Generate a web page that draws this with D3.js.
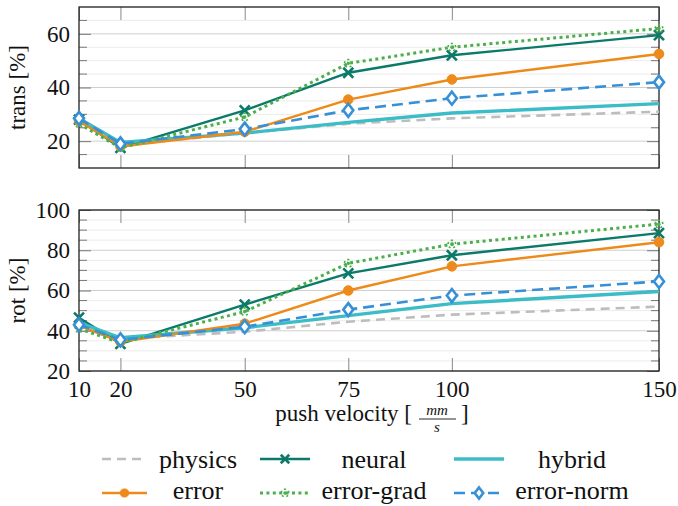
<!DOCTYPE html>
<html>
<head>
<meta charset="utf-8">
<script src="https://cdn.jsdelivr.net/npm/d3@7"></script>
<style>
  html, body { margin: 0; padding: 0; background: #fff; }
  svg { display: block; }
</style>
</head>
<body>
<svg id="chart" width="678" height="506"></svg>
<script>
// ---------------- data ----------------
const velocities = [10, 20, 50, 75, 100, 150];
const seriesNames = ["physics", "neural", "hybrid", "error", "error-grad", "error-norm"];

const transPhysics   = [27.5, 18.5, 23.0, 26.5, 28.5, 31.0];
const transNeural    = [28.0, 17.5, 31.5, 45.5, 52.0, 59.5];
const transHybrid    = [28.5, 19.5, 23.0, 27.0, 30.5, 34.0];
const transError     = [27.5, 18.0, 23.5, 35.5, 43.0, 52.5];
const transErrorGrad = [26.5, 17.5, 29.0, 49.0, 55.0, 62.0];
const transErrorNorm = [28.5, 19.0, 24.5, 31.5, 36.0, 42.0];

const rotPhysics   = [43.0, 36.0, 39.5, 44.5, 48.0, 52.0];
const rotNeural    = [46.5, 33.5, 53.0, 68.5, 77.5, 88.5];
const rotHybrid    = [44.0, 36.5, 41.5, 47.5, 53.5, 59.5];
const rotError     = [42.5, 34.5, 43.5, 60.0, 72.0, 84.0];
const rotErrorGrad = [41.0, 34.0, 49.5, 73.5, 83.0, 93.0];
const rotErrorNorm = [43.0, 35.5, 42.0, 50.5, 57.5, 64.5];

const transYTicks = [20, 40, 60];
const rotYTicks = [20, 40, 60, 80, 100];
const xTicks = [10, 20, 50, 75, 100, 150];

// ---------------- font detection ----------------
function fontAvailable(name) {
  const c = document.createElement("canvas").getContext("2d");
  const s = "mmmmmmmmmmlli10WQ%@abcdefghij";
  const res = [];
  for (const base of ["monospace", "sans-serif", "serif"]) {
    c.font = `40px ${base}`;
    const w0 = c.measureText(s).width;
    c.font = `40px "${name}", ${base}`;
    const w1 = c.measureText(s).width;
    res.push(w0 !== w1);
  }
  return res.some(v => v);
}
const serifCandidates = ["Liberation Serif", "Tinos", "Times New Roman", "DejaVu Serif", "Noto Serif", "FreeSerif", "Nimbus Roman", "Nimbus Roman No9 L"];
let chosen = serifCandidates.find(fontAvailable);
const FONT = chosen ? `"${chosen}", serif` : "serif";

// ---------------- styles ----------------
const styles = {
  "physics":    {color: "#bdbdbd", width: 2.6, dash: "9,6",  marker: null},
  "neural":     {color: "#0b7a68", width: 2.4, dash: null,   marker: "x"},
  "hybrid":     {color: "#3bbcc7", width: 3.4, dash: null,   marker: null},
  "error":      {color: "#ed8a19", width: 2.4, dash: null,   marker: "circle"},
  "error-grad": {color: "#4caf4c", width: 3.0, dash: "3,3.4", marker: "star"},
  "error-norm": {color: "#3790d5", width: 2.6, dash: "11,6", marker: "diamond"}
};

const svg = d3.select("#chart");
const L = 79, R = 659;
const x = d3.scaleLinear().domain([10, 150]).range([L, R]);

function drawMarker(g, type, cx, cy, st, scale) {
  const s = scale || 1;
  if (type === "circle") {
    g.append("circle").attr("cx", cx).attr("cy", cy).attr("r", 4.8 * s)
      .attr("fill", st.color).attr("stroke", st.color).attr("stroke-width", 1);
  } else if (type === "x") {
    const h = 5 * s;
    g.append("path")
      .attr("d", `M${cx - h},${cy - h}L${cx + h},${cy + h}M${cx - h},${cy + h}L${cx + h},${cy - h}`)
      .attr("stroke", st.color).attr("stroke-width", 2.6).attr("fill", "none");
  } else if (type === "diamond") {
    const h = 6.5 * s, w = 5 * s;
    g.append("path")
      .attr("d", `M${cx},${cy - h}L${cx + w},${cy}L${cx},${cy + h}L${cx - w},${cy}Z`)
      .attr("stroke", st.color).attr("stroke-width", 2.6).attr("fill", "#fff");
  } else if (type === "star") {
    const r = 6 * s;
    let d = "";
    for (let i = 0; i < 5; i++) {
      const a = -Math.PI / 2 + i * 2 * Math.PI / 5;
      d += `M${cx},${cy}L${cx + r * Math.cos(a)},${cy + r * Math.sin(a)}`;
    }
    g.append("path").attr("d", d).attr("stroke", st.color).attr("stroke-width", 2.2)
      .attr("stroke-dasharray", "1.6,1.4").attr("fill", "none");
  }
}

function styleText(sel, size) {
  sel.attr("font-family", FONT).style("font-family", FONT).style("font-size", size + "px").attr("fill", "#111");
  return sel;
}

function panel(top, bottom, domain, yTicks, data, label) {
  const y = d3.scaleLinear().domain(domain).range([bottom, top]);
  const g = svg.append("g");

  const minor = d3.range(domain[0], domain[1] + 0.01, 5);
  g.selectAll(".grid").data(minor).enter().append("line")
    .attr("x1", L).attr("x2", R)
    .attr("y1", d => y(d)).attr("y2", d => y(d))
    .attr("stroke", d => yTicks.includes(d) ? "#cfcfcf" : "#ececec")
    .attr("stroke-width", 1);

  const minorOnly = minor.filter(v => !yTicks.includes(v) && v > domain[0] && v < domain[1]);
  g.selectAll(".mtl").data(minorOnly).enter().append("line")
    .attr("x1", L).attr("x2", L + 8).attr("y1", d => y(d)).attr("y2", d => y(d))
    .attr("stroke", "#777").attr("stroke-width", 1);
  g.selectAll(".mtr").data(minorOnly).enter().append("line")
    .attr("x1", R - 8).attr("x2", R).attr("y1", d => y(d)).attr("y2", d => y(d))
    .attr("stroke", "#777").attr("stroke-width", 1);

  const yAxis = g.append("g").attr("transform", `translate(${L},0)`)
    .call(d3.axisLeft(y).tickValues(yTicks).tickSize(-12).tickPadding(9).tickFormat(d3.format("d")));
  yAxis.attr("font-family", FONT).attr("font-size", null);
  yAxis.select(".domain").remove();
  yAxis.selectAll(".tick line").attr("stroke", "#777");
  styleText(yAxis.selectAll(".tick text"), 23);

  const yAxisR = g.append("g").attr("transform", `translate(${R},0)`)
    .call(d3.axisRight(y).tickValues(yTicks).tickSize(-12).tickFormat(""));
  yAxisR.select(".domain").remove();
  yAxisR.selectAll(".tick line").attr("stroke", "#777");

  const xb = g.append("g").attr("transform", `translate(0,${bottom})`)
    .call(d3.axisBottom(x).tickValues(xTicks).tickSize(-13).tickFormat(""));
  xb.select(".domain").remove();
  xb.selectAll(".tick line").attr("stroke", "#888");
  const xt = g.append("g").attr("transform", `translate(0,${top})`)
    .call(d3.axisTop(x).tickValues(xTicks).tickSize(-13).tickFormat(""));
  xt.select(".domain").remove();
  xt.selectAll(".tick line").attr("stroke", "#888");

  g.append("rect").attr("x", L).attr("y", top).attr("width", R - L).attr("height", bottom - top)
    .attr("fill", "none").attr("stroke", "#222").attr("stroke-width", 1.3);

  const line = d3.line().x((d, i) => x(velocities[i])).y(d => y(d));
  seriesNames.forEach((name, k) => {
    const st = styles[name];
    const vals = data[k];
    const sg = g.append("g");
    sg.append("path").datum(vals).attr("d", line)
      .attr("fill", "none").attr("stroke", st.color).attr("stroke-width", st.width)
      .attr("stroke-dasharray", st.dash).attr("stroke-linejoin", "round");
    if (st.marker) {
      vals.forEach((v, i) => drawMarker(sg, st.marker, x(velocities[i]), y(v), st));
    }
  });

  styleText(svg.append("text").attr("transform", `translate(25,${(top + bottom) / 2}) rotate(-90)`)
    .attr("text-anchor", "middle"), 23).text(label);
  return {y, g};
}

panel(7, 168, [10, 70], transYTicks,
  [transPhysics, transNeural, transHybrid, transError, transErrorGrad, transErrorNorm], "trans [%]");
panel(210, 371, [20, 100], rotYTicks,
  [rotPhysics, rotNeural, rotHybrid, rotError, rotErrorGrad, rotErrorNorm], "rot [%]");

const xl = svg.append("g").attr("transform", `translate(0,371)`)
  .call(d3.axisBottom(x).tickValues(xTicks).tickSize(0).tickPadding(10).tickFormat(d3.format("d")));
xl.attr("font-family", FONT).attr("font-size", null);
xl.select(".domain").remove();
styleText(xl.selectAll(".tick text"), 23);

const xlab = svg.append("g");
styleText(xlab.append("text").attr("x", 412).attr("y", 421).attr("text-anchor", "end"), 23).text("push velocity [");
styleText(xlab.append("text").attr("x", 437).attr("y", 415).attr("text-anchor", "middle"), 15)
  .style("font-style", "italic").text("mm");
xlab.append("line").attr("x1", 419).attr("x2", 456).attr("y1", 419).attr("y2", 419)
  .attr("stroke", "#111").attr("stroke-width", 0.9);
styleText(xlab.append("text").attr("x", 437).attr("y", 432).attr("text-anchor", "middle"), 15)
  .style("font-style", "italic").text("s");
styleText(xlab.append("text").attr("x", 461).attr("y", 421).attr("text-anchor", "start"), 23).text("]");

const legendCols = [{x1: 102, x2: 147, tx: 198}, {x1: 260, x2: 310, tx: 374}, {x1: 454, x2: 504, tx: 572}];
const legendRows = [{ly: 459, ty: 468}, {ly: 493, ty: 499}];
const lg = svg.append("g");
seriesNames.forEach((name, k) => {
  const col = legendCols[k % 3], row = legendRows[Math.floor(k / 3)];
  const st = styles[name];
  lg.append("line").attr("x1", col.x1).attr("x2", col.x2).attr("y1", row.ly).attr("y2", row.ly)
    .attr("stroke", st.color).attr("stroke-width", st.width).attr("stroke-dasharray", st.dash);
  if (st.marker) drawMarker(lg, st.marker, (col.x1 + col.x2) / 2, row.ly, st, 0.85);
  styleText(lg.append("text").attr("x", col.tx).attr("y", row.ty).attr("text-anchor", "middle"), 26).text(name);
});
</script>
</body>
</html>
